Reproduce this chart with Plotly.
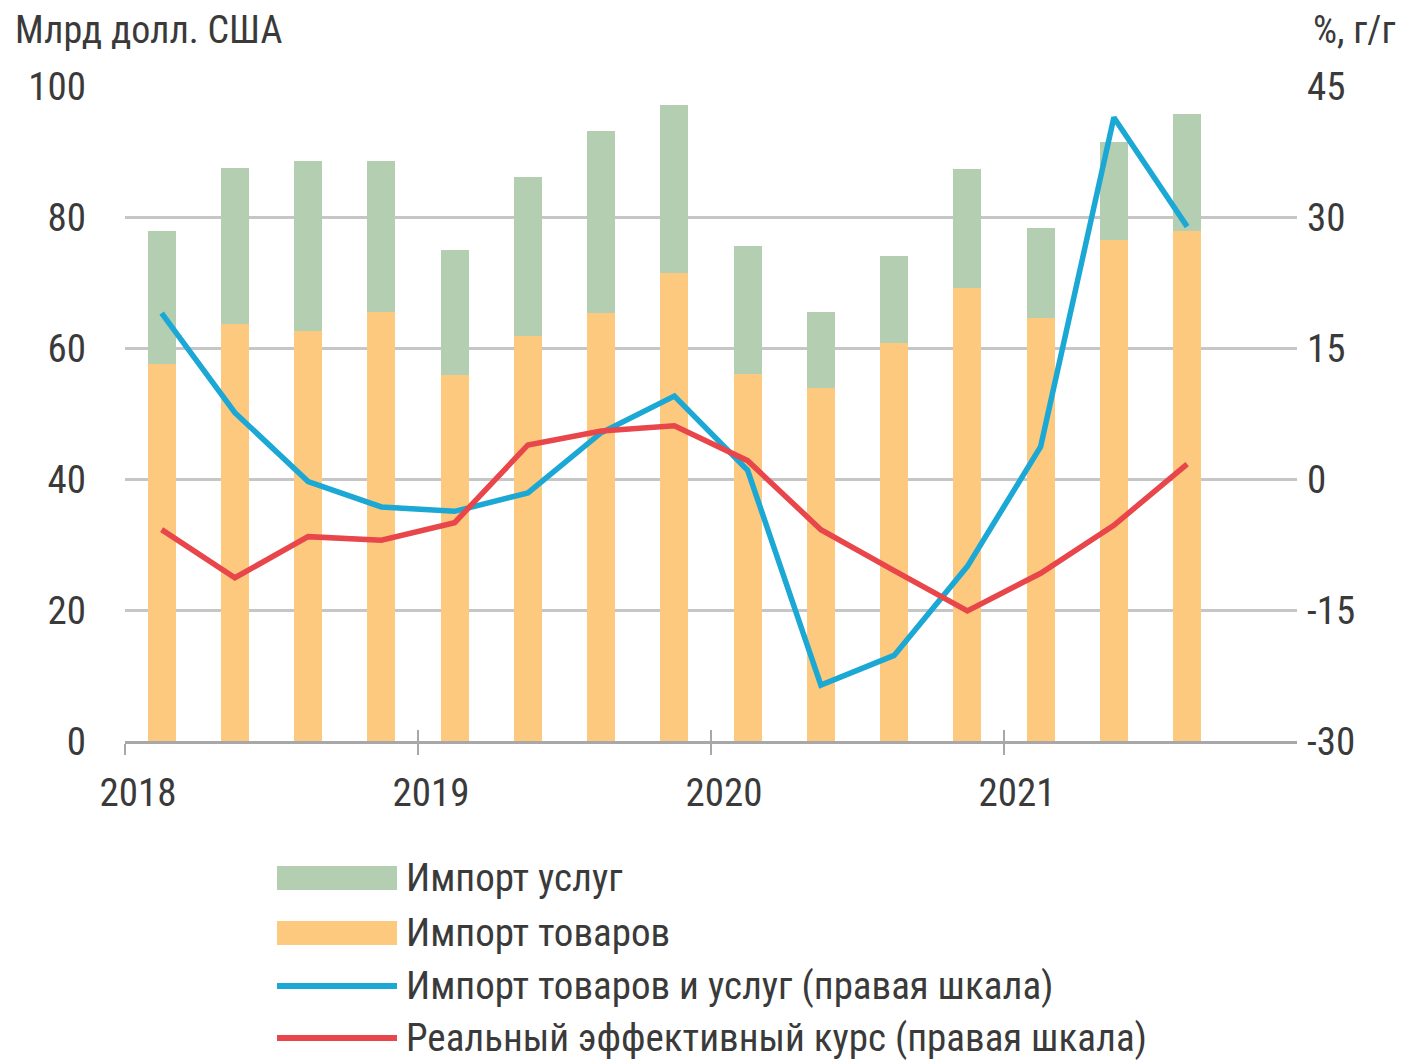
import plotly.graph_objects as go

quarters = ["2018 Q1", "2018 Q2", "2018 Q3", "2018 Q4",
            "2019 Q1", "2019 Q2", "2019 Q3", "2019 Q4",
            "2020 Q1", "2020 Q2", "2020 Q3", "2020 Q4",
            "2021 Q1", "2021 Q2", "2021 Q3"]
goods = [57.6, 63.6, 62.6, 65.5, 55.9, 61.9, 65.3, 71.5, 56.1, 53.9, 60.8, 69.2, 64.6, 76.5, 77.8]
total = [77.8, 87.5, 88.6, 88.6, 75.0, 86.1, 93.1, 97.1, 75.6, 65.5, 74.1, 87.4, 78.3, 91.5, 95.8]
services = [round(t - g, 1) for t, g in zip(total, goods)]
imports_yoy = [19.0, 7.6, -0.3, -3.2, -3.7, -1.6, 5.3, 9.5, 1.0, -23.6, -20.2, -10.0, 3.7, 41.4, 28.9]
reer_yoy = [-5.8, -11.3, -6.6, -7.0, -5.0, 3.9, 5.5, 6.1, 2.1, -5.8, -10.5, -15.1, -10.8, -5.3, 1.7]
year_labels = ["2018", "2019", "2020", "2021"]
right_tickvals = [-30, -15, 0, 15, 30, 45]
right_ticktext = ["-30", "-15", "0", "15", "30", "45"]

names = ["Импорт услуг", "Импорт товаров",
         "Импорт товаров и услуг (правая шкала)",
         "Реальный эффективный курс (правая шкала)"]

C_GREEN = "#B4CEB2"
C_ORANGE = "#FCC97E"
C_BLUE = "#1BA8D5"
C_RED = "#E8464A"
C_GRID = "#C6C6C6"
C_TEXT = "#3A3A3A"
FONT = "Roboto Condensed, Liberation Sans Narrow, Roboto, sans-serif"

xpos = [i + 0.5 for i in range(len(quarters))]

fig = go.Figure()
fig.add_trace(go.Bar(x=xpos, y=goods, name=names[1], marker_color=C_ORANGE,
                     width=0.38, marker_line_width=0, customdata=quarters))
fig.add_trace(go.Bar(x=xpos, y=services, name=names[0], marker_color=C_GREEN,
                     width=0.38, marker_line_width=0, customdata=quarters))
fig.add_trace(go.Scatter(x=xpos, y=imports_yoy, name=names[2], mode="lines",
                         line=dict(color=C_BLUE, width=5.5), xaxis="x2", yaxis="y2"))
fig.add_trace(go.Scatter(x=xpos, y=reer_yoy, name=names[3], mode="lines",
                         line=dict(color=C_RED, width=5.5), xaxis="x2", yaxis="y2"))

# page has an 8px body margin: work in screen coordinates and subtract it
OFF = 8
W, H = 1404 - OFF, 1061 - OFF
PL, PR, PT, PB = 125, 1297, 86, 741   # plot area in screen pixels
L, R, T, B = PL - OFF, W - (PR - OFF), PT - OFF, H - (PB - OFF)
pw, ph = PR - PL, PB - PT

def px(xs):
    return (xs - PL) / pw

def py(ys):
    return (PB - ys) / ph

TICK_FS = 39
fig.update_layout(
    width=W, height=H, barmode="stack", showlegend=False,
    plot_bgcolor="white", paper_bgcolor="white",
    margin=dict(l=L, r=R, t=T, b=B),
    font=dict(family=FONT, color=C_TEXT, size=36),
    xaxis=dict(range=[0, 16], tickvals=[0, 4, 8, 12], ticktext=year_labels,
               ticks="outside", ticklen=11, tickwidth=2, tickcolor="#A8A8A8",
               showline=True, linecolor="#A8A8A8", linewidth=2.5,
               showgrid=False, zeroline=False, ticklabelshift=13,
               ticklabelstandoff=4,
               tickfont=dict(size=TICK_FS, color=C_TEXT)),
    xaxis2=dict(range=[0, 16], overlaying="x", anchor="y",
                tickvals=[0, 4, 8, 12, 16], ticks="inside", ticklen=11,
                tickwidth=2, tickcolor="#A8A8A8", showticklabels=False,
                showgrid=False, zeroline=False, showline=False),
    yaxis=dict(range=[0, 100], dtick=20, showgrid=True, gridcolor=C_GRID,
               gridwidth=2.5, zeroline=False, ticks="", ticklabelstandoff=38,
               tickfont=dict(size=TICK_FS, color=C_TEXT)),
    yaxis2=dict(range=[-30, 45], tickvals=right_tickvals, ticktext=right_ticktext,
                overlaying="y", side="right",
                anchor="x2", showgrid=False, zeroline=False, ticks="",
                ticklabelstandoff=9, tickfont=dict(size=TICK_FS, color=C_TEXT)),
)

fig.add_annotation(text="Млрд долл. США", xref="paper", yref="paper",
                   x=px(13), y=py(30), xanchor="left", yanchor="middle",
                   showarrow=False, font=dict(size=38, color=C_TEXT))
fig.add_annotation(text="%, г/г", xref="paper", yref="paper",
                   x=px(1398), y=py(30), xanchor="right", yanchor="middle",
                   showarrow=False, font=dict(size=38, color=C_TEXT))

# Legend (drawn manually to mimic the wide swatches)
rows = [878, 933, 986, 1038]
kinds = [("rect", C_GREEN), ("rect", C_ORANGE), ("line", C_BLUE), ("line", C_RED)]
for (kind, col), yc, name in zip(kinds, rows, names):
    if kind == "rect":
        fig.add_shape(type="rect", xref="paper", yref="paper",
                      x0=px(277), x1=px(397), y0=py(yc + 12), y1=py(yc - 12),
                      fillcolor=col, line_width=0)
    else:
        fig.add_shape(type="line", xref="paper", yref="paper",
                      x0=px(277), x1=px(397), y0=py(yc), y1=py(yc),
                      line=dict(color=col, width=6))
    fig.add_annotation(text=name, xref="paper", yref="paper",
                       x=px(404), y=py(yc), xanchor="left", yanchor="middle",
                       showarrow=False, font=dict(size=39, color=C_TEXT))

fig.write_html("out.html")
